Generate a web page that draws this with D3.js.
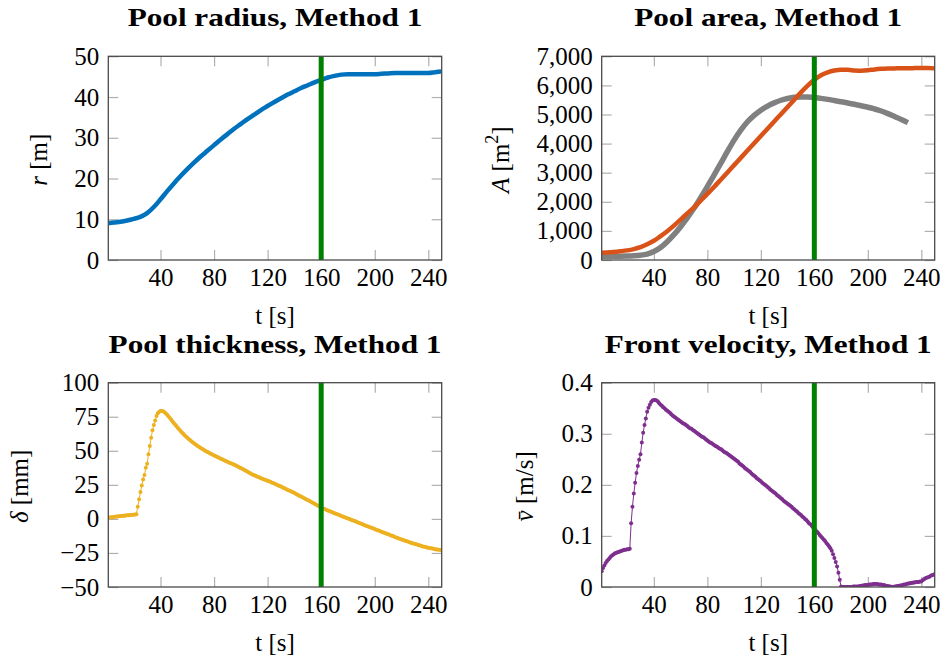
<!DOCTYPE html>
<html>
<head>
<meta charset="utf-8">
<script src="https://cdn.jsdelivr.net/npm/d3@7"></script>
<style>
  html, body { margin: 0; padding: 0; background: #fff; }
  svg { display: block; }
  text { font-family: "Liberation Serif", "Times New Roman", serif; font-size: 25px; fill: #000; }
  .title { font-weight: bold; font-size: 26px; }
</style>
</head>
<body>
<svg id="fig" width="944" height="662"></svg>
<script>
// ---- sampling times [s] for the smooth curves ----
const tCoarse = [1,5,10,15,20,25,30,35,40,45,50,55,60,65,70,75,80,85,90,95,100,
  105,110,115,120,125,130,135,140,145,150,155,160,165,170,175,180,185,190,195,200,
  205,210,215,220,225,230,235,240,245,250];

// pool radius r [m]
const radius = [9.0,9.2,9.4,9.7,10.1,10.6,11.5,13.0,14.9,16.9,18.8,20.6,22.3,23.9,25.4,
  26.8,28.2,29.6,30.9,32.2,33.4,34.6,35.7,36.8,37.8,38.8,39.7,40.6,41.4,42.2,42.9,43.6,
  44.2,44.8,45.2,45.5,45.6,45.6,45.6,45.6,45.6,45.7,45.8,45.9,45.9,45.9,45.9,45.9,45.9,
  46.1,46.3];

// pool area A [m^2], Method 1
const areaMethod = [250,258,275,300,330,375,440,540,660,820,990,1180,1390,1600,1810,2040,
  2270,2510,2760,3010,3260,3510,3760,4010,4260,4510,4760,5010,5260,5510,5760,5990,6190,
  6350,6450,6510,6535,6535,6515,6505,6520,6550,6570,6580,6585,6590,6590,6595,6600,6600,6585];

// pool area A [m^2], reference curve (ends at t = 230 s)
const areaRef = [130,130,130,130,135,145,165,205,290,430,630,870,1145,1450,1775,2140,2520,
  2920,3320,3730,4120,4460,4750,4970,5150,5290,5400,5490,5550,5590,5605,5600,5585,5555,
  5520,5480,5440,5395,5350,5300,5250,5190,5120,5030,4930,4830,4720];

// ---- 1 s output steps for the marked curves ----
const tFine = d3.range(1, 251);

// pool thickness delta [mm]
const thickness = [0.9,1.0,1.2,1.3,1.4,1.6,1.7,1.8,2.0,2.1,
  2.2,2.3,2.4,2.5,2.6,2.7,2.8,2.9,3.0,3.1,
  3.3,3.5,9.0,14.4,19.7,24.6,29.0,32.2,37.6,40.5,
  47.4,53.5,59.6,65.0,68.9,72.3,75.5,77.5,78.7,79.2,
  79.3,79.0,78.3,77.4,76.4,75.2,74.0,72.8,71.6,70.3,
  69.1,68.0,66.8,65.6,64.5,63.5,62.5,61.5,60.5,59.5,
  58.7,57.9,57.0,56.2,55.5,54.8,54.1,53.4,52.7,52.1,
  51.5,50.9,50.3,49.7,49.2,48.7,48.1,47.6,47.1,46.6,
  46.1,45.6,45.2,44.7,44.2,43.8,43.3,42.9,42.4,41.9,
  41.5,41.1,40.7,40.3,39.8,39.3,38.8,38.3,37.8,37.3,
  36.8,36.2,35.7,35.1,34.6,34.1,33.5,33.0,32.5,32.0,
  31.6,31.2,30.8,30.4,29.9,29.5,29.1,28.7,28.4,28.0,
  27.6,27.2,26.8,26.3,25.9,25.5,25.0,24.6,24.2,23.7,
  23.2,22.7,22.3,21.8,21.3,20.8,20.4,19.9,19.5,19.0,
  18.5,18.0,17.4,16.9,16.4,15.9,15.4,14.8,14.3,13.8,
  13.3,12.7,12.2,11.6,11.1,10.5,10.0,9.4,8.9,8.3,
  7.9,7.5,7.0,6.6,6.2,5.8,5.4,5.0,4.6,4.2,
  3.8,3.4,3.0,2.6,2.2,1.8,1.4,1.1,0.7,0.3,
  -0.1,-0.5,-0.9,-1.2,-1.6,-2.0,-2.4,-2.8,-3.2,-3.6,
  -4.0,-4.4,-4.8,-5.2,-5.6,-6.0,-6.4,-6.7,-7.1,-7.5,
  -7.9,-8.3,-8.6,-9.0,-9.4,-9.8,-10.2,-10.5,-10.9,-11.3,
  -11.7,-12.1,-12.4,-12.8,-13.2,-13.6,-14.0,-14.3,-14.7,-15.1,
  -15.4,-15.8,-16.1,-16.5,-16.8,-17.1,-17.5,-17.8,-18.1,-18.4,
  -18.7,-19.0,-19.3,-19.6,-19.9,-20.2,-20.5,-20.7,-21.0,-21.2,
  -21.4,-21.6,-21.8,-22.0,-22.2,-22.4,-22.5,-22.7,-22.8,-22.9];

// mean front velocity [m/s]
const velocity = [0.031,0.037,0.042,0.047,0.051,0.054,0.057,0.060,0.062,0.064,
  0.066,0.067,0.068,0.069,0.070,0.071,0.072,0.073,0.073,0.074,
  0.074,0.075,0.125,0.157,0.183,0.204,0.223,0.237,0.249,0.260,
  0.283,0.302,0.317,0.330,0.343,0.351,0.357,0.362,0.365,0.366,
  0.366,0.365,0.363,0.360,0.357,0.355,0.352,0.350,0.347,0.345,
  0.343,0.341,0.338,0.336,0.334,0.332,0.330,0.328,0.326,0.324,
  0.322,0.320,0.319,0.317,0.315,0.313,0.311,0.310,0.308,0.306,
  0.304,0.302,0.300,0.298,0.296,0.294,0.293,0.291,0.289,0.287,
  0.285,0.283,0.282,0.280,0.278,0.276,0.275,0.273,0.271,0.270,
  0.268,0.266,0.264,0.263,0.261,0.259,0.257,0.255,0.253,0.251,
  0.249,0.247,0.245,0.242,0.240,0.238,0.236,0.233,0.231,0.229,
  0.227,0.225,0.222,0.220,0.218,0.216,0.213,0.211,0.209,0.207,
  0.204,0.202,0.200,0.198,0.196,0.194,0.191,0.189,0.187,0.185,
  0.183,0.180,0.178,0.176,0.174,0.172,0.169,0.167,0.165,0.163,
  0.161,0.159,0.157,0.154,0.152,0.150,0.148,0.145,0.143,0.141,
  0.138,0.136,0.133,0.131,0.128,0.125,0.123,0.120,0.117,0.114,
  0.111,0.108,0.105,0.102,0.099,0.096,0.093,0.090,0.086,0.083,
  0.080,0.076,0.071,0.064,0.057,0.049,0.040,0.028,0.014,0.001,
  0.000,0.000,0.000,0.000,0.000,0.000,0.000,0.000,0.001,0.001,
  0.001,0.001,0.001,0.002,0.002,0.003,0.003,0.004,0.004,0.004,
  0.005,0.005,0.005,0.006,0.006,0.006,0.006,0.005,0.005,0.005,
  0.004,0.004,0.003,0.002,0.002,0.001,0.001,0.000,0.000,0.001,
  0.001,0.002,0.002,0.003,0.003,0.004,0.005,0.005,0.006,0.007,
  0.007,0.008,0.008,0.009,0.009,0.010,0.010,0.010,0.011,0.011,
  0.013,0.015,0.017,0.018,0.019,0.020,0.022,0.023,0.024,0.025];

// vertical marker time [s]
const tMarker = 160;

// ---- tick values ----
const xTicks = [40, 80, 120, 160, 200, 240];
const rTicks = [0, 10, 20, 30, 40, 50];
const aTicks = [0, 1000, 2000, 3000, 4000, 5000, 6000, 7000];
const dTicks = [-50, -25, 0, 25, 50, 75, 100];
const vTicks = [0, 0.1, 0.2, 0.3, 0.4];

const zip = (ts, vs) => vs.map((v, i) => ({ t: ts[i], v }));

const svg = d3.select("#fig");
const frameColor = "#4a4a4a";
const tickColor = "#b0b0b0";
const titleStretch = 1.2;

const panels = [
  {
    box: [108.3, 56.3, 441.7, 260], yDomain: [0, 50], yTicks: rTicks, fmt: d => String(d),
    title: "Pool radius, Method 1",
    ylabel: { dx: -61, parts: [{ s: "r", it: true }, { s: " [m]" }] },
    series: [{ data: zip(tCoarse, radius), color: "#0072BD", width: 4.5 }]
  },
  {
    box: [601.7, 56.3, 934.7, 260], yDomain: [0, 7000], yTicks: aTicks, fmt: d3.format(","),
    title: "Pool area, Method 1",
    ylabel: { dx: -93, parts: [{ s: "A", it: true }, { s: " [m" }, { s: "2", sup: true }, { s: "]", unsup: true }] },
    series: [
      { data: zip(tCoarse, areaRef), color: "#808080", width: 5.5 },
      { data: zip(tCoarse, areaMethod), color: "#D95319", width: 4.5 }
    ]
  },
  {
    box: [108.3, 382.7, 441.7, 587], yDomain: [-50, 100], yTicks: dTicks, fmt: d3.format(""),
    title: "Pool thickness, Method 1",
    ylabel: { dx: -80, parts: [{ s: "\u03b4", it: true }, { s: " [mm]" }] },
    series: [{ data: zip(tFine, thickness), color: "#EDB120", width: 1, marks: 2 }]
  },
  {
    box: [601.7, 382.7, 934.7, 587], yDomain: [0, 0.4], yTicks: vTicks, fmt: d => String(d),
    title: "Front velocity, Method 1",
    ylabel: { dx: -69, parts: [{ s: "v\u0304", it: true }, { s: " [m/s]" }] },
    series: [{ data: zip(tFine, velocity), color: "#7E2F8E", width: 1, marks: 2 }]
  }
];

panels.forEach((p, idx) => {
  const [x0, y0, x1, y1] = p.box;
  const x = d3.scaleLinear().domain(d3.extent(tFine)).range([x0, x1]);
  const y = d3.scaleLinear().domain(p.yDomain).range([y1, y0]);
  const g = svg.append("g");

  const clipId = "plotclip" + idx;
  g.append("clipPath").attr("id", clipId)
    .append("rect").attr("x", x0).attr("y", y0).attr("width", x1 - x0).attr("height", y1 - y0);

  // inward ticks on all four sides; labels only bottom and left
  const axes = [
    [d3.axisBottom(x).tickValues(xTicks).tickPadding(8), `translate(0,${y1})`, true],
    [d3.axisTop(x).tickValues(xTicks).tickFormat(""), `translate(0,${y0})`, false],
    [d3.axisLeft(y).tickValues(p.yTicks).tickPadding(9).tickFormat(p.fmt), `translate(${x0},0)`, true],
    [d3.axisRight(y).tickValues(p.yTicks).tickFormat(""), `translate(${x1},0)`, false]
  ];
  axes.forEach(([axis, tr]) => {
    const a = g.append("g").attr("transform", tr)
      .call(axis.tickSizeInner(-10).tickSizeOuter(0));
    a.attr("font-size", null).attr("font-family", null);
    a.select(".domain").remove();
    a.selectAll(".tick line").attr("stroke", tickColor).attr("stroke-width", 1.2);
  });

  // data curves
  const plot = g.append("g").attr("clip-path", `url(#${clipId})`);
  p.series.forEach(s => {
    const line = d3.line().x(d => x(d.t)).y(d => y(d.v));
    if (!s.marks) line.curve(d3.curveMonotoneX);
    plot.append("path").datum(s.data)
      .attr("d", line)
      .attr("fill", "none")
      .attr("stroke", s.color)
      .attr("stroke-width", s.width)
      .attr("stroke-linejoin", "round");
    if (s.marks) {
      plot.append("g").selectAll("circle").data(s.data).join("circle")
        .attr("cx", d => x(d.t)).attr("cy", d => y(d.v)).attr("r", s.marks)
        .attr("fill", s.color);
    }
  });

  // vertical marker line
  plot.append("line")
    .attr("x1", x(tMarker)).attr("x2", x(tMarker))
    .attr("y1", y0).attr("y2", y1)
    .attr("stroke", "#008000").attr("stroke-width", 5);

  // frame
  g.append("rect").attr("x", x0).attr("y", y0).attr("width", x1 - x0).attr("height", y1 - y0)
    .attr("fill", "none").attr("stroke", frameColor).attr("stroke-width", 1.3);

  const cx = (x0 + x1) / 2, cy = (y0 + y1) / 2;

  // title
  const t = g.append("text").attr("class", "title")
    .attr("x", cx).attr("y", y0 - 30).attr("text-anchor", "middle").text(p.title);
  const w = t.node().getComputedTextLength();
  t.attr("textLength", w * titleStretch).attr("lengthAdjust", "spacingAndGlyphs");

  // x label
  const xl = g.append("text").attr("x", cx).attr("y", y1 + 64).attr("text-anchor", "middle");
  xl.append("tspan").text("t [s]");

  // y label (rotated)
  const yl = g.append("text").attr("text-anchor", "middle")
    .attr("transform", `translate(${x0 + p.ylabel.dx},${cy + 1.5}) rotate(-90)`);
  p.ylabel.parts.forEach(part => {
    const ts = yl.append("tspan").text(part.s);
    if (part.it) ts.attr("font-style", "italic");
    if (part.sup) ts.attr("font-size", "18px").attr("dy", "-11");
    if (part.unsup) ts.attr("dy", "11");
  });
});
</script>
</body>
</html>
